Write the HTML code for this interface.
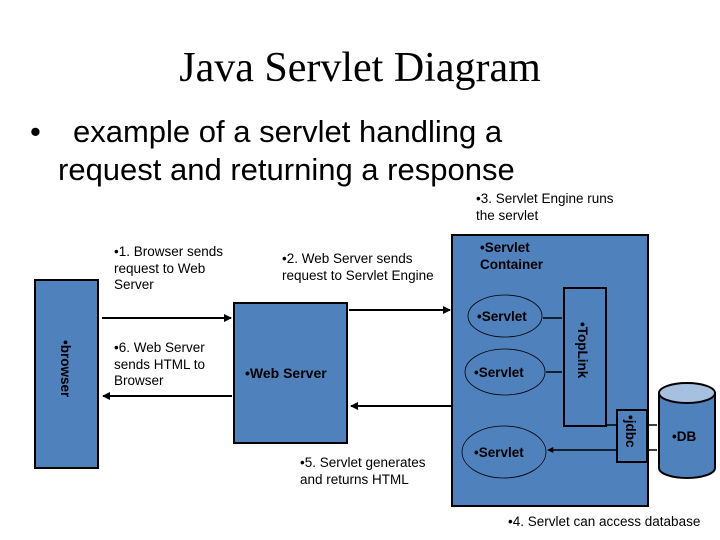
<!DOCTYPE html>
<html><head><style>
body{margin:0;background:#fff;width:720px;height:540px;overflow:hidden;position:relative;font-family:"Liberation Sans",sans-serif}
.t{position:absolute;white-space:nowrap}
.s{font-family:"Liberation Sans",sans-serif;font-size:13.5px;line-height:16.5px;position:absolute;white-space:nowrap}
</style></head><body>
<div class="t" style="left:0;width:720px;text-align:center;top:44px;font-family:'Liberation Serif',serif;font-size:42px">Java Servlet Diagram</div>
<div class="t" style="left:30px;top:113px;font-size:31px;line-height:38px">•</div>
<div class="t" style="left:73px;top:113px;font-size:31px;line-height:38px">example of a servlet handling a</div>
<div class="t" style="left:58px;top:151px;font-size:31px;line-height:38px">request and returning a response</div>
<svg width="720" height="540" style="position:absolute;left:0;top:0" font-family="Liberation Sans, sans-serif">
<defs><marker id="a" markerWidth="4" markerHeight="4" refX="3.5" refY="2" orient="auto"><path d="M0,0L4,2L0,4z"/></marker></defs>
<g fill="#4f81bd" stroke="#000" stroke-width="2">
<rect x="35" y="280" width="63" height="188"/>
<rect x="234" y="303" width="113" height="140"/>
<rect x="452" y="235" width="196" height="271"/>
<rect x="564" y="288" width="42" height="138"/>
<rect x="617" y="410" width="30" height="52"/>
<path d="M659,393 V468 A28,10 0 0 0 715,468 V393"/>
</g>
<ellipse cx="687" cy="393" rx="28" ry="10" fill="#a6c0e0" stroke="#000" stroke-width="2"/>
<g fill="none" stroke="#000" stroke-width="0.8">
<ellipse cx="505" cy="316" rx="37" ry="21"/>
<ellipse cx="505" cy="372" rx="40" ry="23"/>
<ellipse cx="504" cy="452" rx="42" ry="26"/>
</g>
<g stroke="#000" stroke-width="2">
<line x1="102" y1="318" x2="231" y2="318" marker-end="url(#a)"/>
<line x1="232" y1="396" x2="103" y2="396" marker-end="url(#a)"/>
<line x1="349" y1="310" x2="450" y2="310" marker-end="url(#a)"/>
<line x1="452" y1="406" x2="351" y2="406" marker-end="url(#a)"/>
<line x1="543" y1="318" x2="562" y2="318" stroke-width="1.5"/>
<line x1="546" y1="372" x2="562" y2="372" stroke-width="1.5"/>
<line x1="606" y1="425" x2="616" y2="425" stroke-width="1.5"/>
<line x1="616" y1="450" x2="548" y2="450" stroke-width="1.5" marker-end="url(#a)"/>
<line x1="648" y1="425" x2="657" y2="425" stroke-width="1.5"/>
<line x1="648" y1="450" x2="657" y2="450" stroke-width="1.5"/>
</g>
<g font-size="13.5" font-weight="bold" fill="#000">
<text x="477" y="321">•Servlet</text>
<text x="474" y="377">•Servlet</text>
<text x="474" y="457">•Servlet</text>
<text x="245" y="378" font-size="14">•Web Server</text>
<text x="480" y="252">•Servlet</text>
<text x="480" y="269">Container</text>
<text x="672" y="441">•DB</text>
<text transform="translate(578,322) rotate(90)">•TopLink</text>
<text transform="translate(626,415) rotate(90)">•jdbc</text>
<text transform="translate(61,340) rotate(90)">•browser</text>
</g>
</svg>
<div class="s" style="left:114px;top:244px">•1. Browser sends<br>request to Web<br>Server</div>
<div class="s" style="left:282px;top:251px">•2. Web Server sends<br>request to Servlet Engine</div>
<div class="s" style="left:476px;top:191px">•3. Servlet Engine runs<br>the servlet</div>
<div class="s" style="left:114px;top:340px">•6. Web Server<br>sends HTML to<br>Browser</div>
<div class="s" style="left:300px;top:455px">•5. Servlet generates<br>and returns HTML</div>
<div class="s" style="left:508px;top:514px">•4. Servlet can access database</div>
</body></html>
